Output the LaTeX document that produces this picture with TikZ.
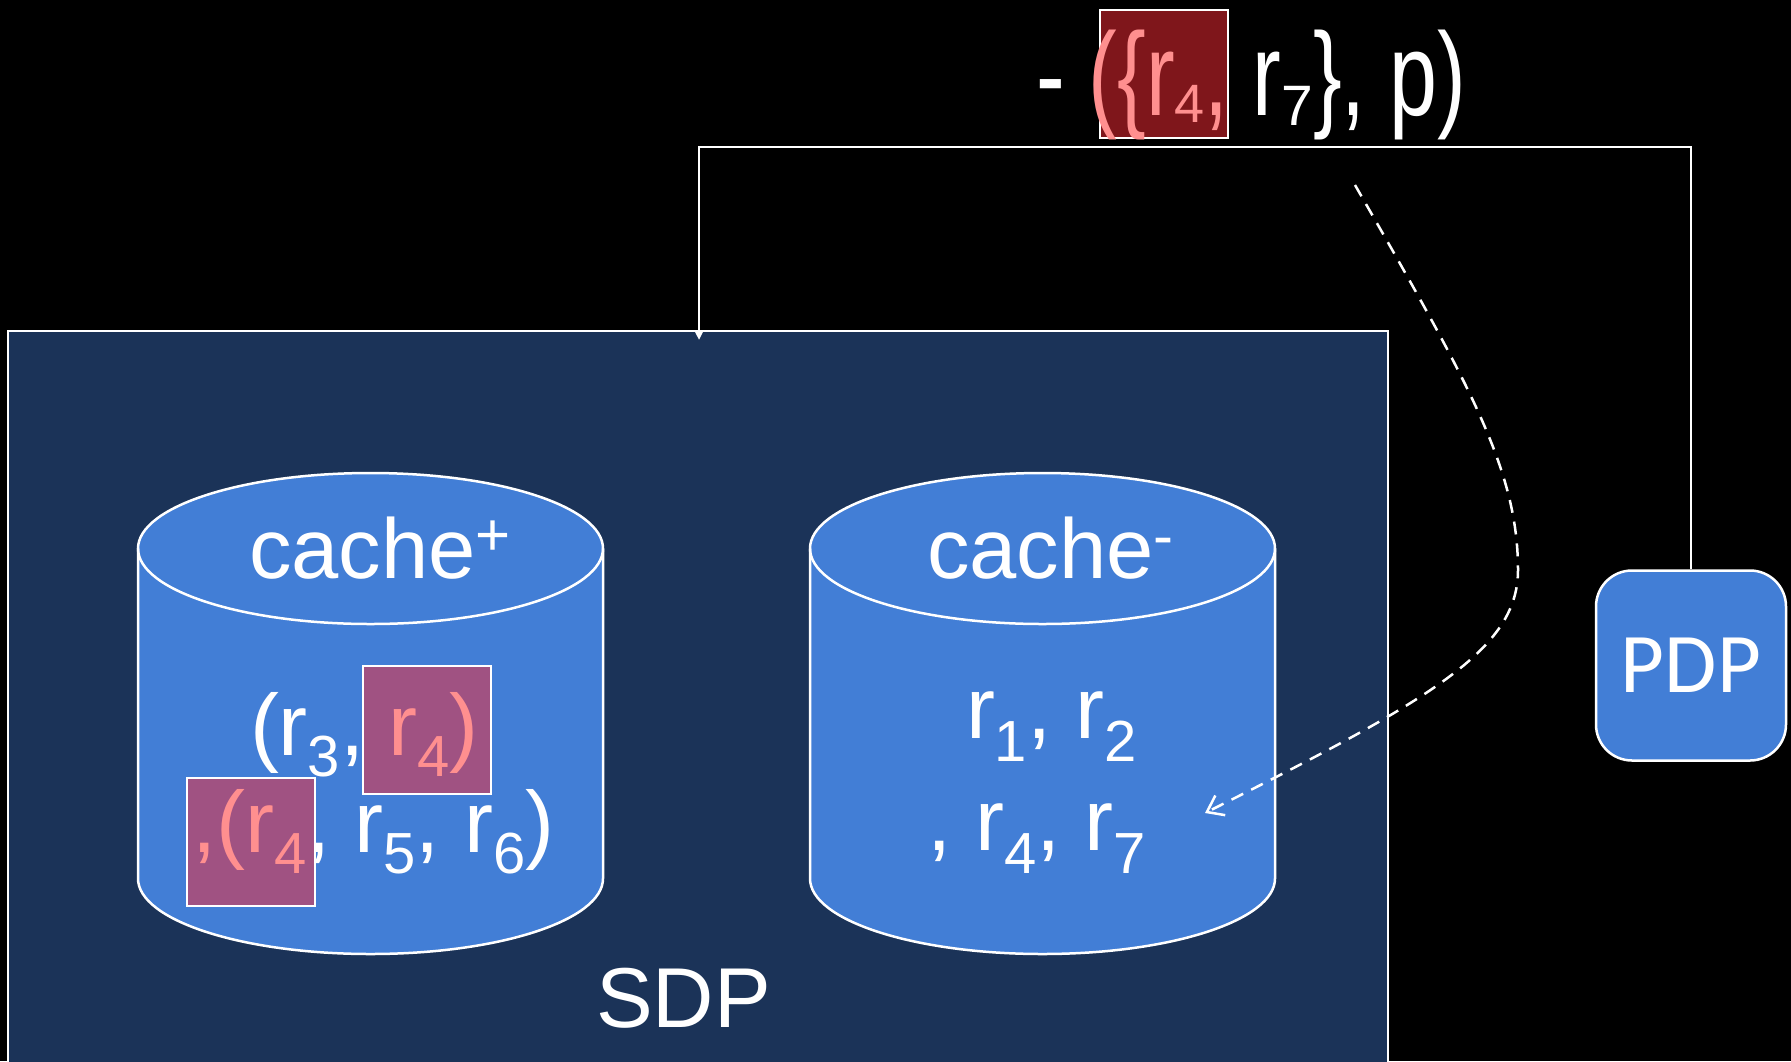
\documentclass[tikz,border=0pt]{standalone}
\usepackage{fontspec}
\setmainfont{Liberation Sans}
\newfontfamily\narrowsans[FakeStretch=0.73]{Liberation Sans}
\newfontfamily\boxfont{Carlito}
\usetikzlibrary{arrows.meta}

\definecolor{sdpnavy}{RGB}{27,51,88}
\definecolor{cylblue}{RGB}{66,126,214}
\definecolor{hlpurple}{RGB}{160,82,130}
\definecolor{hlred}{RGB}{127,22,27}
\definecolor{hlpink}{RGB}{255,143,143}

% lowered / raised small text: shift, size, content
\newcommand\lowsub[3]{\raisebox{-#1pt}{\fontsize{#2pt}{#2pt}\selectfont #3}}
\newcommand\highsup[3]{\raisebox{#1pt}{\fontsize{#2pt}{#2pt}\selectfont #3}}
% subscript in the regular-width face, used inside the narrow reply text
\newcommand\widesub[3]{\raisebox{-#1pt}{\rmfamily\fontsize{#2pt}{#2pt}\selectfont #3}}

\begin{document}
\begin{tikzpicture}[x=1pt,y=-1pt,
  txt/.style={inner sep=0pt, outer sep=0pt, anchor=base west, text=white},
  bigtxt/.style={txt, font=\fontsize{87pt}{87pt}\selectfont},
  labeltxt/.style={txt, font=\fontsize{85pt}{85pt}\selectfont},
  cylbody/.style={fill=cylblue},
  cyledge/.style={draw=white, line width=2.5pt},
  hlbox/.style={draw=white, line width=2pt, inner sep=0pt,
    minimum width=128pt, minimum height=128pt},
  wire/.style={draw=white, line width=2.5pt},
  flowarrow/.style={draw=white, line width=2.5pt, dash pattern=on 13pt off 9pt,
    -{Straight Barb[length=15pt,width=22pt,line width=2.5pt]}},
]
\useasboundingbox (0,0) rectangle (1791,1061);
\clip (0,0) rectangle (1791,1061);
\fill[black] (0,0) rectangle (1791,1061);

% SDP container
\node[draw=white, line width=2pt, fill=sdpnavy, inner sep=0pt,
  minimum width=1380pt, minimum height=780pt, anchor=north west] (sdp) at (7,330) {};

% cylinder for cache+
\fill[cylbody] (138,548.5) -- (138,878.5)
  arc[start angle=180, end angle=0, x radius=232.5, y radius=75.5]
  -- (603,548.5) arc[start angle=0, end angle=-180, x radius=232.5, y radius=75.5] -- cycle;
\draw[cyledge] (138,548.5) -- (138,878.5)
  arc[start angle=180, end angle=0, x radius=232.5, y radius=75.5] -- (603,548.5);
\draw[cyledge] (370.5,548.5) ellipse [x radius=232.5, y radius=75.5];

% cylinder for cache-
\fill[cylbody] (810,548.5) -- (810,878.5)
  arc[start angle=180, end angle=0, x radius=232.5, y radius=75.5]
  -- (1275,548.5) arc[start angle=0, end angle=-180, x radius=232.5, y radius=75.5] -- cycle;
\draw[cyledge] (810,548.5) -- (810,878.5)
  arc[start angle=180, end angle=0, x radius=232.5, y radius=75.5] -- (1275,548.5);
\draw[cyledge] (1042.5,548.5) ellipse [x radius=232.5, y radius=75.5];

% highlight boxes
\node[hlbox, fill=hlpurple] (hlone) at (427,729.5) {};
\node[hlbox, fill=hlpurple] (hltwo) at (250.5,842) {};
\node[hlbox, fill=hlred] (hlthree) at (1163.5,73.5) {};

% cylinder labels and contents
\node[labeltxt] (cplus) at (249,578) {cache\highsup{23}{60}{+}};
\node[labeltxt] (cminus) at (927,578) {cache\highsup{22}{60}{-}};

\node[bigtxt] (pone) at (250,755)
  {(r\lowsub{21}{58}{3}, \textcolor{hlpink}{r\lowsub{21}{58}{4})}};
\node[bigtxt] (ptwo) at (192,852)
  {\textcolor{hlpink}{,(r\lowsub{21}{58}{4}}, r\lowsub{21}{58}{5}, r\lowsub{21}{58}{6})};

\node[bigtxt] (mone) at (966,738) {r\lowsub{23}{58}{1}, r\lowsub{23}{58}{2}};
\node[bigtxt] (mtwo) at (927,850) {, r\lowsub{23}{58}{4}, r\lowsub{23}{58}{7}};

\node[labeltxt] (sdplabel) at (596,1027) {SDP};

% response sent back to the SDP
\node[txt, font=\narrowsans\fontsize{118pt}{118pt}\selectfont] (reply) at (1036,115)
  {- \textcolor{hlpink}{(\{r\widesub{7}{54}{4},} r\widesub{10}{57}{7}\}, p)};

% PDP
\node[draw=white, line width=2.5pt, fill=cylblue, rounded corners=36pt,
  minimum width=190pt, minimum height=190pt, inner sep=0pt, text=white,
  font=\boxfont\fontsize{85pt}{85pt}\selectfont] (pdp) at (1691,665.5) {PDP};

% connector PDP -> SDP
\coordinate (sdpin) at (699,340);
\draw[wire, -{Triangle[length=10pt,width=9pt]}] (pdp.north) |- (699,147) -- (sdpin);

% update of cache-
\coordinate (flowstart) at (1355,185);
\coordinate (flowend) at (1205,813);
\draw[flowarrow] (flowstart) .. controls (1470,385) and (1518,470) .. (1518,570)
  .. controls (1518,650) and (1430,700) .. (flowend);
\end{tikzpicture}
\end{document}
